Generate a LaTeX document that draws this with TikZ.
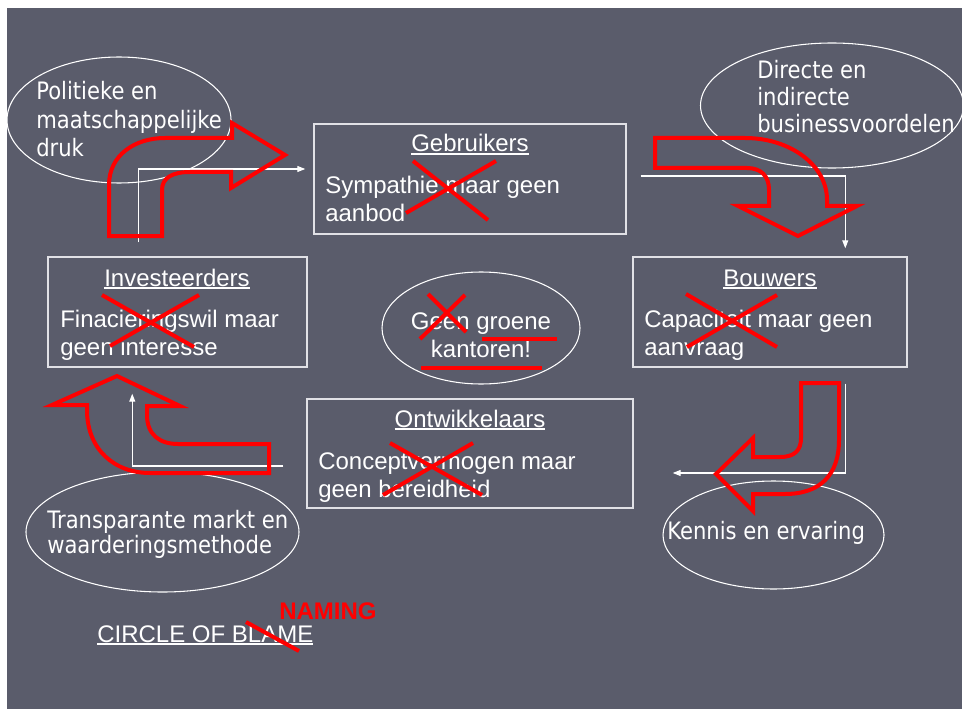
\documentclass[tikz,border=0pt]{standalone}
\usepackage{fontspec}
\setmainfont{Liberation Sans}
\newfontfamily\ovalfont[FakeStretch=0.88]{DejaVu Sans}
\usepackage{tikz}
\usetikzlibrary{positioning}
\usetikzlibrary{calc}
\usetikzlibrary{shapes}
\usetikzlibrary{arrows.meta}
\definecolor{slidegray}{RGB}{90,92,107}
\definecolor{boxline}{RGB}{225,225,230}
\newcommand{\ulbar}[1]{\setbox0=\hbox{#1}\rlap{\rule[-2.2pt]{\wd0}{1.1pt}}\box0}
\tikzset{
    every picture/.append style={
        >={Triangle[length=6pt,width=4.5pt]}
    }
}
\tikzset{
    box/.style={draw=boxline, line width=1.1pt, inner sep=0pt},
    oval/.style={shape=ellipse, draw=white, line width=0.8pt, inner sep=0pt},
    title/.style={text=white, font=\fontsize{18}{20.5}\selectfont, inner sep=0pt, anchor=base},
    body/.style={text=white, font=\fontsize{18}{20.5}\selectfont, align=left, inner sep=0pt, anchor=base west},
    ovaltext/.style={text=white, font=\ovalfont\fontsize{18}{21.5}\selectfont, align=left, inner sep=0pt, anchor=base west},
    link/.style={draw=white, line width=0.8pt, ->},
    bent/.style={draw=red, line width=3pt, line join=miter},
    cross/.style={draw=red, line width=3pt},
}
\begin{document}
\begin{tikzpicture}[x=0.75pt, y=-0.75pt]
		\useasboundingbox (0,0) rectangle (962,709);
		\fill[white] (0,0) rectangle (962,709);
		\fill[slidegray] (7,8) rectangle (962,709);

		\node[box, minimum width=312*0.75pt, minimum height=110*0.75pt] (geb) at (470,179) {};
		\node[box, minimum width=259*0.75pt, minimum height=110*0.75pt] (inv) at (177.5,312) {};
		\node[box, minimum width=274*0.75pt, minimum height=110*0.75pt] (bou) at (770,312) {};
		\node[box, minimum width=326*0.75pt, minimum height=109*0.75pt] (ont) at (470,453.5) {};

		\node[oval, minimum width=224*0.75pt, minimum height=126*0.75pt] (pol) at (119,120) {};
		\node[oval, minimum width=263*0.75pt, minimum height=125*0.75pt] (dir) at (832,105.5) {};
		\node[oval, minimum width=198*0.75pt, minimum height=112*0.75pt] (geen) at (481,328) {};
		\node[oval, minimum width=273*0.75pt, minimum height=120*0.75pt] (trans) at (162.5,532) {};
		\node[oval, minimum width=221*0.75pt, minimum height=108*0.75pt] (ken) at (773.5,535) {};

		\node[title] (gebt) at (470,152) {\ulbar{Gebruikers}};
		\node[title] (invt) at (177,286) {\ulbar{Investeerders}};
		\node[title] (bout) at (770,286) {\ulbar{Bouwers}};
		\node[title] (ontt) at (470,427) {\ulbar{Ontwikkelaars}};

		\node[body] (gebb) at (325,221) {Sympathie maar geen\\aanbod};
		\node[body] (invb) at (60,355) {Finacieringswil maar\\geen interesse};
		\node[body] (boub) at (644,355) {Capaciteit maar geen\\aanvraag};
		\node[body] (ontb) at (318,497) {Conceptvermogen maar\\geen bereidheid};

		\node[ovaltext] (polt) at (36,157) {Politieke en\\maatschappelijke\\druk};
		\node[ovaltext, font=\ovalfont\fontsize{18}{20.5}\selectfont] (dirt) at (757,133) {Directe en\\indirecte\\businessvoordelen};
		\node[ovaltext, font=\ovalfont\fontsize{18}{17}\selectfont] (transt) at (47,553) {Transparante markt en\\waarderingsmethode};
		\node[ovaltext] (kent) at (667,539) {Kennis en ervaring};
		\node[body, align=center, anchor=base] (geent) at (481,357) {Geen groene\\kantoren!};

		\node[title, anchor=base west] (blame) at (97,642) {\ulbar{CIRCLE OF BLAME}};
		\node[title, anchor=base west, text=red, font=\fontsize{18}{20}\selectfont\bfseries] (naming) at (279,619) {NAMING};

		\path[link] ($(inv.north west)+(91,-14)$) |- ($(geb.west)+(-8,-10)$);
		\path[link] ($(geb.east)+(14,-3)$) -| ($(bou.north west)+(213,-8)$);
		\path[link] ($(bou.south west)+(213,16)$) |- ($(ont.east)+(39,19.5)$);
		\path[link] ($(ont.west)+(-23,12.5)$) -| ($(inv.south west)+(85,26)$);

		\draw[bent] (109,236) -- (109,185) .. controls (109,155) and (135,138) .. (165,138) -- (232,138) -- (232,123) -- (285,155) -- (231,188) -- (231,172) -- (190,172) .. controls (172,172) and (162,178) .. (162,190) -- (162,236) -- cycle;
		\draw[bent] (655,138) -- (745,138) .. controls (790,138) and (827,165) .. (827,200) -- (827,206) -- (857,206) -- (798,236) -- (738,206) -- (769,206) -- (769,190) .. controls (769,176) and (761,168) .. (747,168) -- (655,168) -- cycle;
		\draw[bent] (801,383) -- (839,383) -- (839,440) .. controls (839,475) and (820,494) .. (785,494) -- (753,494) -- (753,511) -- (716,474) -- (753,438) -- (753,457) -- (780,457) .. controls (795,457) and (801,450) .. (801,438) -- cycle;
		\draw[bent] (87,405) -- (52,405) -- (117,376) -- (180,406) -- (147,406) -- (147,415) .. controls (147,435) and (160,444) .. (178,444) -- (269,444) -- (269,473) -- (150,473) .. controls (115,473) and (87,450) .. (87,410) -- cycle;

		\draw[cross] (413,161) -- (488,220);
		\draw[cross] (496,161) -- (406,213);
		\draw[cross] (102,295) -- (194,347);
		\draw[cross] (199,295) -- (110,346);
		\draw[cross] (686,294) -- (777,347);
		\draw[cross] (777,295) -- (687,347);
		\draw[cross] (390,443) -- (482,495);
		\draw[cross] (473,443) -- (383,495);
		\draw[cross] (428,294) -- (466,332);
		\draw[cross] (465,295) -- (420,339);
		\draw[cross] (482,339) -- (557,339);
		\draw[cross] (421,368) -- (542,368);
		\draw[cross] (246,622) -- (299,651);
\end{tikzpicture}
\end{document}
